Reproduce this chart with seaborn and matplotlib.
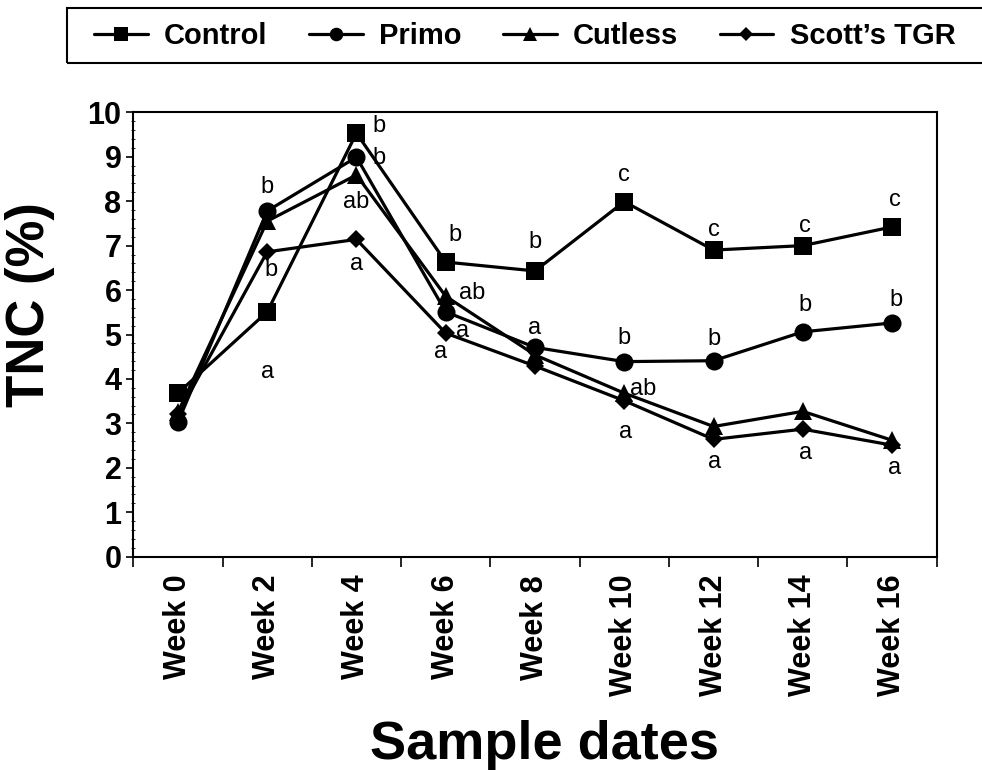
import numpy as np
import pandas as pd
import matplotlib
matplotlib.use('Agg')
import matplotlib.pyplot as plt
from matplotlib.lines import Line2D
from matplotlib.patches import Rectangle
import seaborn as sns

# ---------------------------
# Data
# ---------------------------
weeks = ['Week 0', 'Week 2', 'Week 4', 'Week 6', 'Week 8',
         'Week 10', 'Week 12', 'Week 14', 'Week 16']
treatments = ['Control', 'Primo', 'Cutless', "Scott\u2019s TGR"]

control = [3.68, 5.51, 9.53, 6.63, 6.43, 7.99, 6.90, 7.00, 7.42]
primo = [3.03, 7.78, 8.99, 5.51, 4.71, 4.39, 4.41, 5.06, 5.26]
cutless = [3.25, 7.55, 8.59, 5.86, 4.54, 3.68, 2.93, 3.27, 2.62]
scotts = [3.20, 6.86, 7.14, 5.03, 4.29, 3.51, 2.64, 2.87, 2.51]

# significance letters: text, week index, y position
ann_text = ['a', 'b', 'b', 'b', 'ab', 'b', 'a',
            'b', 'ab', 'a', 'a',
            'b', 'a',
            'c', 'b', 'ab', 'a',
            'c', 'b', 'a',
            'c', 'b', 'a',
            'c', 'b', 'a']
ann_week = [1, 2, 2, 1, 2, 1, 2,
            3, 3, 3, 3,
            4, 4,
            5, 5, 5, 5,
            6, 6, 6,
            7, 7, 7,
            8, 8, 8]
ann_y = [4.15, 9.69, 8.97, 8.31, 7.99, 6.45, 6.59,
         7.23, 5.93, 5.08, 4.61,
         7.08, 5.14,
         8.59, 4.91, 3.77, 2.81,
         7.35, 4.89, 2.14,
         7.44, 5.66, 2.33,
         8.03, 5.78, 1.99]
ann_dx = [0, 0.25, 0.25, 0, 0, 0.04, 0,
          0.1, 0.3, 0.19, -0.06,
          0, 0,
          0, 0, 0.21, 0.02,
          0, 0, 0.01,
          0.02, 0.02, 0.03,
          0.03, 0.04, 0.03]

series = [control, primo, cutless, scotts]
df = pd.DataFrame({
    'week': np.tile(np.arange(len(weeks)), len(treatments)),
    'TNC': np.concatenate(series),
    'Treatment': np.repeat(treatments, len(weeks)),
})

markers = {'Control': 's', 'Primo': 'o', 'Cutless': '^', "Scott\u2019s TGR": 'D'}
msizes = {'Control': 13, 'Primo': 13, 'Cutless': 13, "Scott\u2019s TGR": 9}

# ---------------------------
# Plot
# ---------------------------
sns.set_style('ticks')
plt.rcParams['font.family'] = ['Liberation Sans', 'DejaVu Sans']
plt.rcParams['text.color'] = 'black'
plt.rcParams['xtick.color'] = 'black'
plt.rcParams['ytick.color'] = 'black'
plt.rcParams['axes.labelcolor'] = 'black'

fig = plt.figure(figsize=(9.82, 7.70), dpi=100)
ax = fig.add_axes([133.3 / 982, 1 - 556.7 / 770, 803.4 / 982, 444.4 / 770])

for t in treatments:
    sns.lineplot(data=df[df['Treatment'] == t], x='week', y='TNC', ax=ax,
                 color='black', marker=markers[t], markersize=msizes[t],
                 markeredgecolor='black', markeredgewidth=0, linewidth=2.3,
                 errorbar=None, sort=False, legend=False)

for txt, wk, yv, dx in zip(ann_text, ann_week, ann_y, ann_dx):
    ax.text(wk + dx, yv, txt, ha='center', va='center', fontsize=17, color='black')

ax.set_xlim(-0.5, len(weeks) - 0.5)
ax.set_ylim(0, 10)
ax.set_xticks(np.arange(-0.5, len(weeks), 1.0))
ax.set_xticklabels([])
ax.set_xticks(np.arange(len(weeks)), minor=True)
ax.set_xticklabels(weeks, minor=True, rotation=90, fontsize=22, fontweight='bold')
ax.tick_params(axis='x', which='major', length=7.5, width=1.2, direction='out')
ax.tick_params(axis='x', which='minor', length=0, pad=13)

ax.set_yticks(range(0, 11))
ax.set_yticklabels([str(v) for v in range(0, 11)], fontsize=22, fontweight='bold')
ax.set_yticks(np.arange(0, 10.01, 0.2), minor=True)
ax.tick_params(axis='y', which='major', length=5, width=1.2, pad=3.5, direction='out')
ax.tick_params(axis='y', which='minor', length=2.5, width=0.6, direction='inout')

ax.set_xlabel('')
ax.set_ylabel('')
for s in ax.spines.values():
    s.set_linewidth(1.5)
    s.set_color('black')
ax.grid(False)

fig.text(30 / 982, 1 - 305 / 770, 'TNC (%)', rotation=90, ha='center', va='center',
         fontsize=38, fontweight='bold')
fig.text(545 / 982, 1 - 745 / 770, 'Sample dates', ha='center', va='center',
         fontsize=39, fontweight='bold')

# legend box runs off the right edge of the figure
fig.patches.append(Rectangle((67.3 / 982, 1 - 63.3 / 770), 960 / 982, 55 / 770,
                             transform=fig.transFigure, fill=False,
                             edgecolor='black', linewidth=1.5))

handles = [Line2D([], [], color='black', linewidth=2.3, marker=markers[t],
                  markersize=msizes[t] * 0.75, markeredgewidth=0) for t in treatments]
leg = fig.legend(handles, treatments, loc='center left', ncol=4,
                 bbox_to_anchor=(94 / 982, 1 - 36 / 770), frameon=False,
                 prop={'weight': 'bold', 'size': 21}, handlelength=1.85,
                 handletextpad=0.55, columnspacing=1.42, borderpad=0,
                 borderaxespad=0)

plt.savefig('out.png', dpi=100)
